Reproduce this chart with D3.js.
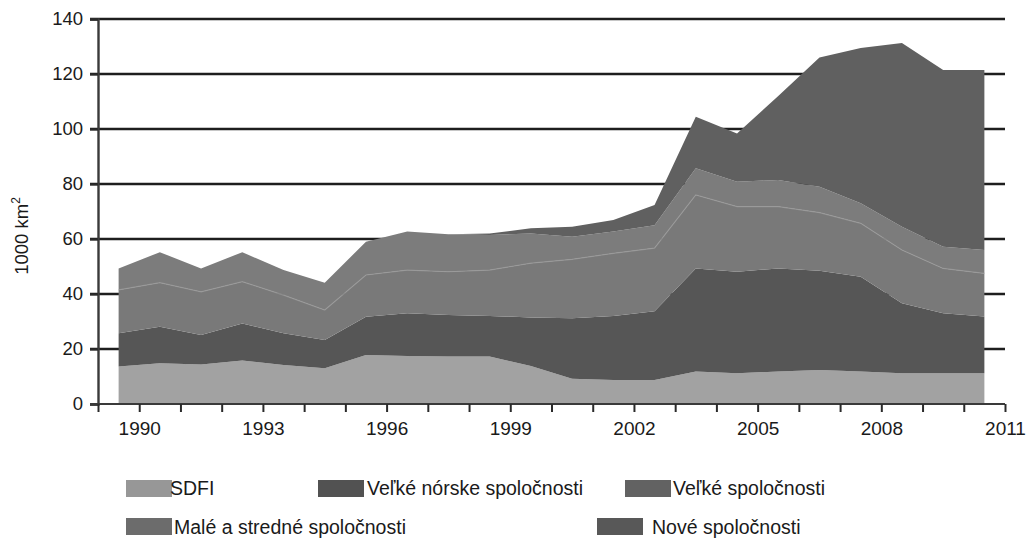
<!DOCTYPE html>
<html><head><meta charset="utf-8">
<script src="https://cdn.jsdelivr.net/npm/d3@7/dist/d3.min.js"></script>
<style>
html,body{margin:0;padding:0;background:#fff;}
svg text{font-family:"Liberation Sans",Arial,Helvetica,sans-serif;fill:#1a1a1a;}
</style></head>
<body>
<svg id="chart" width="1033" height="544"></svg>
<script>
// ---- data ----
const years = [1989,1990,1991,1992,1993,1994,1995,1996,1997,1998,1999,2000,2001,2002,2003,2004,2005,2006,2007,2008,2009,2010];
const seriesNames = ["SDFI","Veľké nórske spoločnosti","Veľké spoločnosti","Malé a stredné spoločnosti","Nové spoločnosti"];
const sdfi      = [13.6,14.8,14.4,15.8,14.2,13.0,17.8,17.5,17.3,17.3,13.8,9.2,8.7,8.7,11.8,11.2,11.8,12.4,11.8,11.2,11.2,11.2];
const velkeNor  = [12.1,13.3,10.7,13.5,11.5,10.3,13.9,15.5,15.1,14.7,17.7,22.0,23.3,25.0,37.5,36.9,37.5,36.1,34.5,25.4,21.8,20.6];
const velke     = [15.8,16.0,15.7,15.2,13.9,10.9,15.2,15.7,15.7,16.7,19.7,21.4,22.8,23.0,26.7,23.7,22.5,21.1,19.4,19.4,16.3,15.7];
const male      = [7.8,11.1,8.5,10.7,9.1,9.9,12.1,14.0,13.6,12.8,10.8,8.2,7.9,8.3,9.7,9.0,9.7,9.4,7.3,8.5,7.9,8.5];
const nove      = [0,0,0,0,0,0,0,0,0,0.5,1.9,3.7,4.2,7.4,18.8,17.6,30.5,47.0,56.5,66.8,64.3,65.5];
const yTicks = [0,20,40,60,80,100,120,140];
const xLabels = [1990,1993,1996,1999,2002,2005,2008,2011];

const areaColors   = ["#a2a2a2","#565656","#797979","#7c7c7c","#606060"];
const legendColors = ["#979797","#525252","#626262","#6c6c6c","#585858"];

const rows = years.map((y,i)=>({year:y, s0:sdfi[i], s1:velkeNor[i], s2:velke[i], s3:male[i], s4:nove[i]}));
const keys = ["s0","s1","s2","s3","s4"];
const stack = d3.stack().keys(keys)(rows);

const svg = d3.select("#chart");
const x = d3.scaleLinear().domain([1989,2011]).range([98,1005]);
const y = d3.scaleLinear().domain([0,140]).range([404,19]);

// gridlines (under areas)
svg.append("g").selectAll("line").data(yTicks.filter(d=>d>0)).join("line")
  .attr("x1",90).attr("x2",1005)
  .attr("y1",d=>y(d)).attr("y2",d=>y(d))
  .attr("stroke","#1e1e1e").attr("stroke-width",2.4);

// areas
const area = d3.area()
  .x(d=>x(d.data.year+0.5))
  .y0(d=>y(d[0])).y1(d=>y(d[1]));
svg.append("g").selectAll("path").data(stack).join("path")
  .attr("d",area).attr("fill",(d,i)=>areaColors[i]);

// faint light line between "Veľké spoločnosti" and "Malé a stredné"
svg.append("path").datum(stack[2])
  .attr("d",d3.line().x(d=>x(d.data.year+0.5)).y(d=>y(d[1])))
  .attr("fill","none").attr("stroke","#999").attr("stroke-width",1.2).attr("opacity",0.75);

// y axis
const yAxis = svg.append("g").attr("transform","translate(98,0)")
  .call(d3.axisLeft(y).tickValues(yTicks).tickSize(8).tickPadding(7));
yAxis.select(".domain").attr("stroke","#3a3a3a").attr("stroke-width",2.4);
yAxis.selectAll(".tick line").attr("stroke","#2a2a2a").attr("stroke-width",2.2);
yAxis.selectAll(".tick text").attr("font-size",18.5).attr("fill","#1a1a1a")
  .attr("font-family","Liberation Sans, Arial, sans-serif");

// x axis
const xAxis = svg.append("g").attr("transform","translate(0,404)")
  .call(d3.axisBottom(x).tickValues(d3.range(1989,2012)).tickSize(8).tickPadding(10)
    .tickFormat(d=>xLabels.includes(d)?String(d):""));
xAxis.select(".domain").attr("stroke","#3a3a3a").attr("stroke-width",2).attr("d","M90,0H1005");
xAxis.selectAll(".tick line").attr("stroke","#2a2a2a").attr("stroke-width",2);
xAxis.selectAll(".tick text").attr("font-size",19).attr("fill","#1a1a1a")
  .attr("font-family","Liberation Sans, Arial, sans-serif");

// y title
const yt = svg.append("text").attr("transform","translate(28,236) rotate(-90)")
  .attr("text-anchor","middle").attr("font-size",18.5);
yt.append("tspan").text("1000 km");
yt.append("tspan").attr("dy",-8).attr("font-size",12).text("2");

// legend
const legendPos = [
  {sx:126, sy:480, tx:170, ty:495},
  {sx:318, sy:480, tx:367, ty:495},
  {sx:625, sy:480, tx:673, ty:495},
  {sx:126, sy:518, tx:174, ty:534},
  {sx:597, sy:518, tx:652, ty:534}
];
const lg = svg.append("g");
seriesNames.forEach((n,i)=>{
  const p = legendPos[i];
  lg.append("rect").attr("x",p.sx).attr("y",p.sy).attr("width",46).attr("height",17).attr("fill",legendColors[i]);
  lg.append("text").attr("x",p.tx).attr("y",p.ty).attr("font-size",19.5).text(n);
});
</script>
</body></html>
